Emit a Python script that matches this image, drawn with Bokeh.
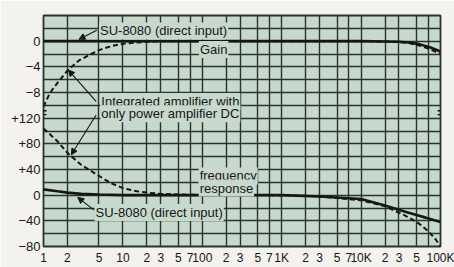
from bokeh.plotting import figure
from bokeh.models import FixedTicker, Label, Arrow, NormalHead, LogAxis, Range1d
from bokeh.core.properties import value
from bokeh.embed import file_html
from bokeh.resources import INLINE

# ---------------- data ----------------
# Gain (dB) vs frequency (Hz)
gain_su_freq = [1, 10, 100, 1000, 10000, 20000, 30000, 40000, 55000, 75000, 100000]
gain_su_db = [0, 0, 0, 0, 0, -0.05, -0.1, -0.2, -0.5, -1.0, -1.6]

gain_int_freq = [1, 1.15, 1.3, 1.5, 2, 2.8, 4, 5, 7, 10, 15, 20, 30, 100, 1000,
                 10000, 20000, 30000, 40000, 55000, 75000, 100000]
gain_int_db = [-10.2, -8.6, -7.5, -6.5, -4.6, -3.0, -2.0, -1.4, -0.8, -0.4, -0.2,
               -0.1, 0, 0, 0, 0, -0.05, -0.15, -0.3, -0.7, -1.3, -2.0]

# Phase (degrees) vs frequency (Hz)
phase_su_freq = [1, 1.5, 2, 3, 5, 10, 100, 1000, 3000, 10000, 20000, 36000, 50000, 65000, 100000]
phase_su_deg = [9, 6, 4, 2, 1, 0, 0, 0, -2, -6, -16, -26, -31, -35, -42]

phase_int_freq = [1, 1.5, 2, 3, 5, 7, 10, 15, 20, 30, 50, 100, 1000, 3000, 10000,
                  20000, 36000, 52000, 70000, 87000, 100000]
phase_int_deg = [104, 84, 66, 47, 30, 19, 11, 6, 4, 2, 1, 0.5, 0, -2, -8,
                 -17, -32, -43, -56, -69, -80]

# ticks / labels
x_ticks = [1, 2, 5, 10, 20, 30, 50, 70, 100, 200, 300, 500, 700, 1000, 2000, 3000,
           5000, 7000, 10000, 20000, 30000, 50000, 70000, 100000]
x_tick_labels = ["1", "2", "5", "10", "2", "3", "5", "7", "100", "2", "3", "5", "7",
                 "1K", "2", "3", "5", "7", "10K", "2", "3", "5", "7", "100K"]
gain_ticks = [0, -4, -8]
gain_tick_labels = ["0", "\u22124", "\u22128"]
phase_ticks = [120, 80, 40, 0, -40, -80]
phase_tick_labels = ["+120", "+80", "+40", "0", "\u221240", "\u221280"]


# the phase scale is stacked under the gain scale: 20 deg per 2 dB grid step
def phase_to_y(d):
    return d / 10.0 - 24.0


BG = "#c7d8cd"
PAPER = "#f3f2ee"
GRID = "#27352d"
INK = "#161616"
FONT = "Liberation Sans"

W, H = 454, 267
LEFT, RIGHT, TOP, BOTTOM = 43, 14, 15, 21
X0, X1 = 1, 100000

p = figure(width=W, height=H, x_axis_type="log", x_range=(X0, X1),
           y_range=(-32, 4), output_backend="svg", toolbar_location=None,
           min_border_left=LEFT, min_border_right=RIGHT, min_border_top=TOP,
           min_border_bottom=BOTTOM, background_fill_color=BG,
           border_fill_color=PAPER, outline_line_color=GRID,
           outline_line_width=1.8)


def style_axis(ax, size):
    ax.axis_line_color = None
    ax.major_tick_line_color = None
    ax.minor_tick_line_color = None
    ax.major_tick_out = 0
    ax.major_tick_in = 0
    ax.minor_tick_out = 0
    ax.major_label_text_font = FONT
    ax.major_label_text_color = INK
    ax.major_label_text_font_size = size


# x axis; the "7" just before 100K is nudged left (as printed) by a second,
# label-only axis drawn on a slightly shifted copy of the frequency range
last7 = x_ticks[-2]
overrides = dict(zip(x_ticks, x_tick_labels))
overrides[last7] = ""
p.xaxis.ticker = FixedTicker(ticks=x_ticks, minor_ticks=[])
p.xaxis.major_label_overrides = overrides
p.xaxis.major_label_standoff = 4
style_axis(p.xaxis[0], "12px")

frame_w = W - LEFT - RIGHT
shift_dec = 5 * 5.0 / frame_w          # 5 px expressed in decades
k = 10 ** shift_dec
p.extra_x_ranges = {"nudge": Range1d(X0 * k, X1 * k)}
ax7 = LogAxis(x_range_name="nudge", fixed_location=-32,
              ticker=FixedTicker(ticks=[last7], minor_ticks=[]),
              major_label_overrides={last7: x_tick_labels[-2]},
              major_label_standoff=4)
style_axis(ax7, "12px")
p.add_layout(ax7, "below")

# y axis (gain on top, phase below)
y_ticks = gain_ticks + [phase_to_y(d) for d in phase_ticks]
p.yaxis.ticker = FixedTicker(ticks=y_ticks, minor_ticks=[])
p.yaxis.major_label_overrides = dict(zip(y_ticks, gain_tick_labels + phase_tick_labels))
p.yaxis.major_label_standoff = 3
style_axis(p.yaxis[0], "13px")

# grid
p.xgrid.ticker = FixedTicker(ticks=x_ticks, minor_ticks=[])
p.ygrid.ticker = FixedTicker(ticks=list(range(4, -34, -2)), minor_ticks=[])
for g in (p.xgrid, p.ygrid):
    g.grid_line_color = GRID
    g.grid_line_width = 1.4
    g.grid_line_alpha = 1.0


# labels (boxes covering the grid)
def add_label(x, y, text, align="left"):
    lab = Label(x=x, y=y, text=text, text_font=FONT, text_font_size="13px",
                text_color=INK, text_align=align, text_baseline="middle",
                background_fill_color=BG, background_fill_alpha=1.0,
                padding=1, level="glyph")
    p.add_layout(lab)


add_label(5.0, 1.6, "SU-8080 (direct input)")
add_label(139, -1.3, "Gain", align="center")
add_label(5.2, -9.4, "Integrated amplifier with")
add_label(5.2, -11.3, "only power amplifier DC")
add_label(90, -21.0, "frequency")
add_label(90, -22.9, "response")
add_label(4.4, -26.7, "SU-8080 (direct input)")

# curves
p.line(gain_su_freq, gain_su_db, line_color=INK, line_width=2.6)
p.line(gain_int_freq, gain_int_db, line_color=INK, line_width=2.0, line_dash="5 3")
p.line(phase_su_freq, [phase_to_y(d) for d in phase_su_deg], line_color=INK, line_width=2.6)
p.line(phase_int_freq, [phase_to_y(d) for d in phase_int_deg], line_color=INK,
       line_width=2.0, line_dash="5 3")

# break marks between the two scales
p.text(x=[X0, X1], y=[-11.2, -11.2], text=["=", "="], text_font=value(FONT),
       text_font_size="12px", text_font_style="bold", text_color=INK,
       text_align="center", text_baseline="middle")


# arrows
def add_arrow(x0, y0, x1, y1):
    p.add_layout(Arrow(x_start=x0, y_start=y0, x_end=x1, y_end=y1,
                       line_color=INK, line_width=1.1,
                       end=NormalHead(size=6, line_color=INK, fill_color=INK,
                                      line_width=1)))


add_arrow(4.7, 1.7, 2.8, 0.3)
add_arrow(4.6, -9.4, 2.06, -4.5)
add_arrow(4.6, -11.5, 2.24, phase_to_y(63))
add_arrow(4.3, -26.3, 2.7, -24.35)

open("out.html", "w").write(file_html(p, INLINE))
